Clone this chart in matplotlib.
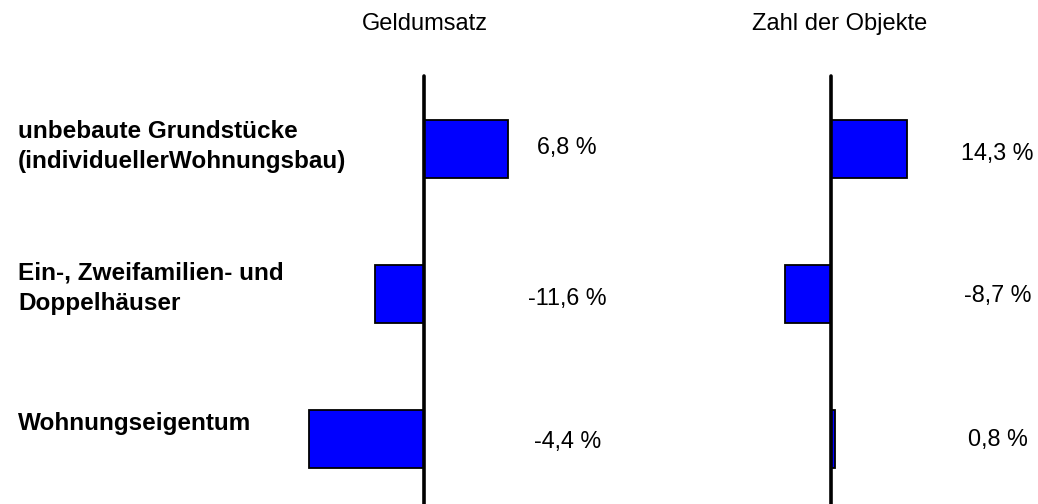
import matplotlib
matplotlib.use("Agg")
import matplotlib.pyplot as plt
import matplotlib.transforms as mtransforms

plt.rcParams['font.family'] = ['Liberation Sans', 'DejaVu Sans']

categories = ["unbebaute Grundstücke\n(individuellerWohnungsbau)",
              "Ein-, Zweifamilien- und\nDoppelhäuser",
              "Wohnungseigentum"]
# bar lengths as drawn in the picture
geld_bars = [6.8, -4.0, -9.3]
zahl_bars = [14.3, -8.7, 0.8]
# value labels as printed
geld_labels = ["6,8 %", "-11,6 %", "-4,4 %"]
zahl_labels = ["14,3 %", "-8,7 %", "0,8 %"]
titles = ["Geldumsatz", "Zahl der Objekte"]

W, H = 1038, 504
fig = plt.figure(figsize=(W / 100, H / 100), dpi=100)

# vertical geometry (pixels): first category centre, spacing, axis line top
y0_px, step_px, top_px = 149, 145, 76
ylim = ((H - y0_px) / step_px, -y0_px / step_px)
line_top = -(y0_px - top_px) / step_px


def panel(left_px, right_px, zero_px, px_per_unit, bars, labels, label_x, label_dy):
    ax = fig.add_axes([left_px / W, 0, (right_px - left_px) / W, 1])
    ax.set_xlim(-(zero_px - left_px) / px_per_unit, (right_px - zero_px) / px_per_unit)
    ax.set_ylim(*ylim)
    ax.axis('off')
    ypos = range(len(bars))
    ax.barh(ypos, bars, height=0.4, color='#0000FF', edgecolor='black', linewidth=1.3, zorder=2)
    ax.plot([0, 0], [line_top, ylim[0]], color='black', lw=2.6, solid_capstyle='round', zorder=3,
            clip_on=False)
    for y, lab, dy in zip(ypos, labels, label_dy):
        ax.text(label_x, y + dy, lab, ha='center', va='center', fontsize=16.8, clip_on=False)
    return ax


ax1 = panel(290, 640, 424, 12.35, geld_bars, geld_labels, 11.6, [-0.01, 0.03, 0.02])
ax2 = panel(700, 1038, 831, 5.31, zahl_bars, zahl_labels, 31.4, [0.03, 0.01, 0.0])

fig.text(424.5 / W, 1 - 24 / H, titles[0], ha='center', va='center', fontsize=17)
fig.text(839.5 / W, 1 - 24 / H, titles[1], ha='center', va='center', fontsize=17)

trans = mtransforms.blended_transform_factory(fig.transFigure, ax1.transData)
for y, (cat, dy) in enumerate(zip(categories, [-0.02, -0.04, -0.11])):
    fig.text(18 / W, y + dy, cat, transform=trans, ha='left', va='center',
             fontsize=17.5, fontweight='bold', linespacing=1.4)

fig.savefig("out.png", dpi=100)
